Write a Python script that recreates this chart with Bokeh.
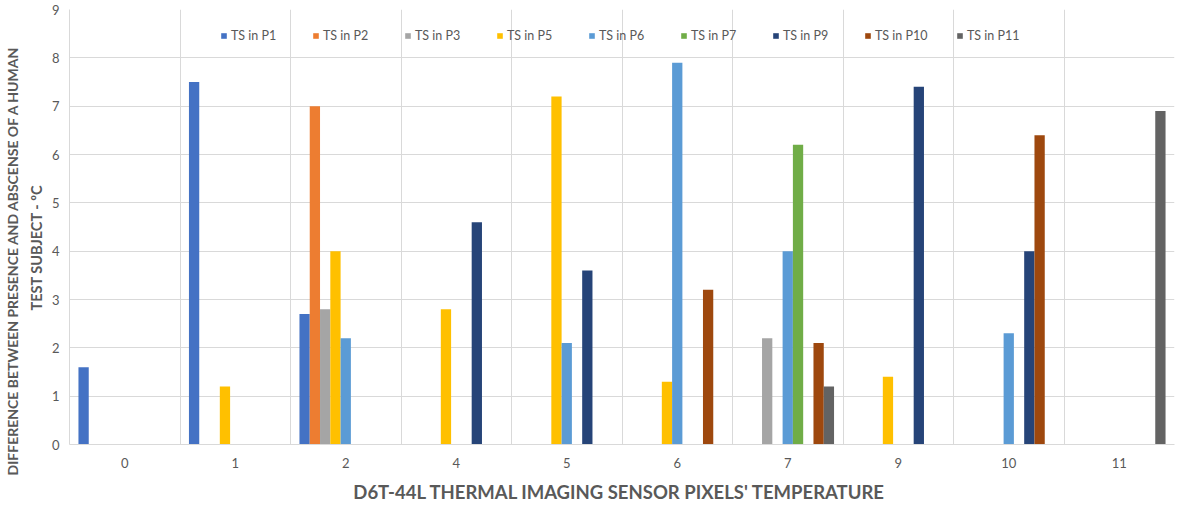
from bokeh.plotting import figure
from bokeh.models import Range1d, FixedTicker, ColumnDataSource, Legend, LegendItem, Title
from bokeh.embed import file_html
from bokeh.resources import INLINE

categories = ["0", "1", "2", "4", "5", "6", "7", "9", "10", "11"]
series_names = ["TS in P1", "TS in P2", "TS in P3", "TS in P5", "TS in P6",
                "TS in P7", "TS in P9", "TS in P10", "TS in P11"]
p1 = [1.6, 7.5, 2.7, 0, 0, 0, 0, 0, 0, 0]
p2 = [0, 0, 7.0, 0, 0, 0, 0, 0, 0, 0]
p3 = [0, 0, 2.8, 0, 0, 0, 2.2, 0, 0, 0]
p5 = [0, 1.2, 4.0, 2.8, 7.2, 1.3, 0, 1.4, 0, 0]
p6 = [0, 0, 2.2, 0, 2.1, 7.9, 4.0, 0, 2.3, 0]
p7 = [0, 0, 0, 0, 0, 0, 6.2, 0, 0, 0]
p9 = [0, 0, 0, 4.6, 3.6, 0, 0, 7.4, 4.0, 0]
p10 = [0, 0, 0, 0, 0, 3.2, 2.1, 0, 6.4, 0]
p11 = [0, 0, 0, 0, 0, 0, 1.2, 0, 0, 6.9]
series_values = [p1, p2, p3, p5, p6, p7, p9, p10, p11]
colors = ["#4472C4", "#ED7D31", "#A5A5A5", "#FFC000", "#5B9BD5",
          "#70AD47", "#264478", "#9E480E", "#636363"]
x_title = "D6T-44L  THERMAL IMAGING SENSOR PIXELS' TEMPERATURE"
y_title_lines = ["DIFFERENCE BETWEEN PRESENCE AND ABSCENSE OF A HUMAN", "TEST SUBJECT - ºC"]

FONT = "Lato"
TXT = "#595959"
n = len(categories)
bw = 0.0931

p = figure(width=1177, height=506, output_backend="svg", toolbar_location=None,
           x_range=Range1d(0, n), y_range=Range1d(0, 9),
           min_border_left=63, min_border_right=3, min_border_top=9, min_border_bottom=62)
p.outline_line_color = None
p.background_fill_color = "white"

items = []
centers = [i + 0.5 for i in range(n)]
for s, (name, vals, col) in enumerate(zip(series_names, series_values, colors)):
    xs = [c + (s - 4) * bw for c in centers]
    src = ColumnDataSource(dict(x=xs, top=vals))
    r = p.vbar(x="x", top="top", width=bw, source=src, fill_color=col, line_color=None)
    items.append(LegendItem(label=name, renderers=[r]))

legend = Legend(items=items, orientation="horizontal", location=(151, 401),
                glyph_width=7, glyph_height=7, label_standoff=4, label_width=70, spacing=11,
                padding=0, margin=0, border_line_alpha=0, background_fill_alpha=0,
                label_text_font=FONT, label_text_font_size="12.5px", label_text_color=TXT)
p.add_layout(legend)

# y axis title: two lines as left-side titles (inner line first)
for line, off, stand, size in [(y_title_lines[1], 134, 7, "14.5px"),
                               (y_title_lines[0], -31, 3, "14px")]:
    p.add_layout(Title(text=line, align="left", offset=off, standoff=stand,
                       text_font=FONT, text_font_style="bold", text_font_size=size,
                       text_color=TXT), "left")

# axes
p.xaxis.ticker = FixedTicker(ticks=centers)
p.xaxis.major_label_overrides = {c: lab for c, lab in zip(centers, categories)}
p.xaxis.major_tick_line_color = None
p.xaxis.major_tick_out = 0
p.xaxis.major_tick_in = 0
p.xaxis.minor_tick_line_color = None
p.xaxis.axis_line_color = "#D9D9D9"
p.xaxis.major_label_text_font = FONT
p.xaxis.major_label_text_font_size = "13px"
p.xaxis.major_label_text_color = TXT
p.xaxis.major_label_standoff = 13
p.xaxis.axis_label = x_title
p.xaxis.axis_label_text_font = FONT
p.xaxis.axis_label_text_font_style = "bold"
p.xaxis.axis_label_text_font_size = "18.5px"
p.xaxis.axis_label_text_color = TXT
p.xaxis.axis_label_standoff = 10

p.yaxis.ticker = FixedTicker(ticks=list(range(0, 10)))
p.yaxis.major_tick_line_color = None
p.yaxis.major_tick_out = 0
p.yaxis.major_tick_in = 0
p.yaxis.minor_tick_line_color = None
p.yaxis.axis_line_color = "#D9D9D9"
p.yaxis.major_label_text_font = FONT
p.yaxis.major_label_text_font_size = "13px"
p.yaxis.major_label_text_color = TXT
p.yaxis.major_label_standoff = 10

p.xgrid.ticker = FixedTicker(ticks=list(range(1, n)))
p.xgrid.grid_line_color = "#D9D9D9"
p.ygrid.ticker = FixedTicker(ticks=list(range(1, 10)))
p.ygrid.grid_line_color = "#D9D9D9"

open("out.html", "w").write(file_html(p, INLINE))
